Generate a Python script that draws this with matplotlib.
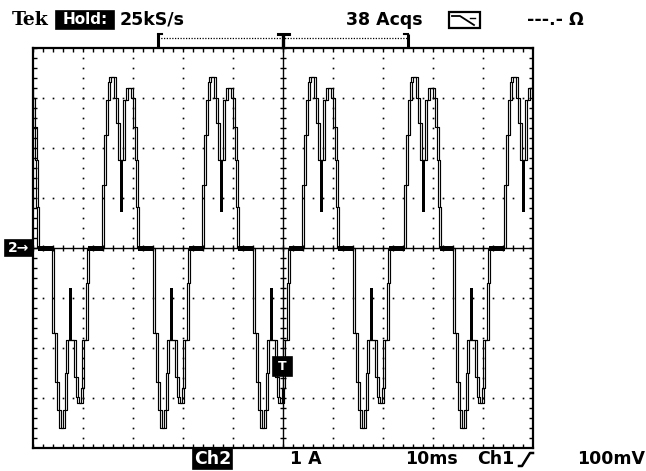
import matplotlib
matplotlib.use("Agg")
import matplotlib.pyplot as plt
import matplotlib.transforms as mtransforms
from matplotlib.patches import Rectangle
import numpy as np

W, H = 646, 471

# scope screen: 10 ms/div horizontally, Ch2 at 1 A/div, 10 x 8 divisions
T_RANGE = (0.0, 100.0)
I_RANGE = (-4.0, 4.0)

# one positive current pulse: ms from pulse start, amps (stepped samples)
POS_T = [0.0, 0.4, 0.8, 1.2, 1.4, 2.4, 2.8, 3.2, 4.2, 4.8, 5.8, 6.2, 6.6, 6.8, 7.0]
POS_I = [1.26, 2.26, 2.96, 3.32, 3.42, 3.0, 2.5, 1.76, 2.96, 3.2, 3.0, 2.42, 1.76, 0.82, 0.0]
POS_JITTER = (3.4, 4.0, 0.72, 1.76)  # smeared valley: t0, t1, low, high

# one negative current pulse
NEG_T = [0.0, 0.6, 1.0, 1.4, 2.2, 2.6, 2.8, 4.4, 4.8, 5.0, 5.8, 6.0, 6.8, 7.0]
NEG_I = [-1.7, -2.68, -3.24, -3.6, -3.24, -2.5, -1.84, -2.58, -2.98, -3.1, -2.8, -1.84, -0.7, 0.0]
NEG_JITTER = (3.2, 3.8, -1.84, -0.8)

POS_STARTS = [-6.0, 14.0, 34.0, 54.0, 74.4, 94.4]
NEG_STARTS = [4.0, 24.2, 44.2, 64.2, 84.2]
NOISE_AMP = 0.05

TOP_TEXT = ["25kS/s", "38 Acqs", "---.- Ω"]
BOTTOM_TEXT = ["1 A", "10ms", "Ch1", "100mV"]


def fx(x):
    return x / W


def fy(y):
    return 1 - y / H


def black_box(fig, x0, y0, x1, y1, fill=True, lw=1.2):
    fig.add_artist(Rectangle((fx(x0), fy(y1)), (x1 - x0) / W, (y1 - y0) / H,
                             transform=fig.transFigure,
                             facecolor="black" if fill else "none",
                             edgecolor="black", linewidth=lw))


def main():
    fig = plt.figure(figsize=(W / 100, H / 100), dpi=100)
    ax = fig.add_axes([fx(33), fy(448), 500 / W, 400 / H])
    ax.set_xlim(*T_RANGE)
    ax.set_ylim(*I_RANGE)
    ax.set_xticks([])
    ax.set_yticks([])
    for sp in ax.spines.values():
        sp.set_linewidth(1.6)
        sp.set_zorder(6)

    # graticule: 5 minor steps per division
    minor_t = np.arange(0, 100.01, 2.0)
    minor_i = np.arange(-4, 4.01, 0.2)
    for xv in range(10, 100, 10):
        if xv == 50:
            continue
        ax.plot(np.full_like(minor_i, xv), minor_i, ls="none", marker="s",
                ms=1.2, mew=0, color="black", zorder=1)
    for yv in [-3, -2, -1, 1, 2, 3]:
        ax.plot(minor_t, np.full_like(minor_t, yv), ls="none", marker="s",
                ms=1.2, mew=0, color="black", zorder=1)

    # centre cross with minor ticks
    ax.axvline(50, color="black", lw=1.0, zorder=2)
    ax.axhline(0, color="black", lw=1.0, zorder=2)
    ax.vlines(minor_t, -0.06, 0.06, color="black", lw=1.0, zorder=2)
    ax.hlines(minor_i, 49.4, 50.6, color="black", lw=1.0, zorder=2)

    # border ticks
    ax.vlines(minor_t, 4 - 0.08, 4, color="black", lw=1.0, zorder=2)
    ax.vlines(minor_t, -4, -4 + 0.08, color="black", lw=1.0, zorder=2)
    ax.hlines(minor_i, 0, 0.8, color="black", lw=1.0, zorder=2)
    ax.hlines(minor_i, 99.2, 100, color="black", lw=1.0, zorder=2)

    # build the trace from the pulse templates
    pulses = sorted([(s, POS_T, POS_I, POS_JITTER) for s in POS_STARTS] +
                    [(s, NEG_T, NEG_I, NEG_JITTER) for s in NEG_STARTS],
                    key=lambda p: p[0])
    t = [-10.0]
    cur = [0.0]
    for s, tt, ii, _ in pulses:
        t += [s + v for v in tt]
        cur += list(ii)
    t.append(110.0)
    cur.append(0.0)

    # envelope look: two copies of the trace slightly apart
    for dx in (-0.75, 0.75):
        tr = mtransforms.offset_copy(ax.transData, fig=fig, x=dx, y=0, units="points")
        ax.plot(t, cur, drawstyle="steps-post", color="black", lw=0.85,
                transform=tr, zorder=4)

    # smeared valleys and baseline noise between pulses
    for k, (s, tt, ii, jit) in enumerate(pulses):
        j0, j1, lo, hi = jit
        ax.fill_between([s + j0, s + j1], lo, hi, color="black", lw=0, zorder=4)
        end = s + tt[-1]
        if k + 1 < len(pulses):
            nxt = pulses[k + 1][0]
            ax.fill_between([end, nxt], -NOISE_AMP, NOISE_AMP, color="black",
                            lw=0, zorder=4)

    # record-length bracket above the screen
    ax.plot([25, 75], [4.2, 4.2], color="black", lw=0.9, ls=(0, (1, 1.2)),
            clip_on=False)
    for xb, d in [(25, 0.8), (75, -0.8)]:
        ax.plot([xb, xb], [4.0, 4.28], color="black", lw=2.2, clip_on=False,
                solid_capstyle="butt")
        ax.plot([xb, xb + d], [4.28, 4.28], color="black", lw=1.5, clip_on=False)
    ax.plot([50, 50], [4.0, 4.3], color="black", lw=2.4, clip_on=False,
            solid_capstyle="butt")
    ax.plot([48.9, 51.1], [4.28, 4.28], color="black", lw=2.2, clip_on=False)

    # header line
    fs = 12.5
    fig.text(fx(12), fy(20), "Tek", family="DejaVu Serif", weight="bold",
             fontsize=13.5, va="center", ha="left")
    black_box(fig, 56, 11, 114, 29)
    fig.text(fx(85), fy(20), "Hold:", color="white", weight="bold",
             fontsize=11, va="center", ha="center")
    fig.text(fx(120), fy(20), TOP_TEXT[0], weight="bold", fontsize=fs,
             va="center", ha="left")
    fig.text(fx(346), fy(20), TOP_TEXT[1], weight="bold", fontsize=fs,
             va="center", ha="left")
    black_box(fig, 449, 12, 480, 28, fill=False, lw=1.6)
    fig.add_artist(plt.Line2D([fx(452), fx(460), fx(474)],
                              [fy(16), fy(16), fy(25)], color="black", lw=1.3))
    fig.add_artist(plt.Line2D([fx(470), fx(475)], [fy(18), fy(18)],
                              color="black", lw=1.0))
    fig.text(fx(527), fy(20), TOP_TEXT[2], weight="bold", fontsize=fs,
             va="center", ha="left")

    # footer line
    black_box(fig, 193, 449, 232, 469)
    fig.text(fx(212.5), fy(459), "Ch2", color="white", weight="bold",
             fontsize=fs, va="center", ha="center")
    fig.text(fx(290), fy(459), BOTTOM_TEXT[0], weight="bold", fontsize=fs,
             va="center", ha="left")
    fig.text(fx(405), fy(459), BOTTOM_TEXT[1], weight="bold", fontsize=fs,
             va="center", ha="left")
    fig.text(fx(477), fy(459), BOTTOM_TEXT[2], weight="bold", fontsize=fs,
             va="center", ha="left")
    fig.add_artist(plt.Line2D([fx(519), fx(522), fx(530), fx(533)],
                              [fy(466), fy(466), fy(453), fy(453)],
                              color="black", lw=1.8))
    fig.text(fx(577), fy(459), BOTTOM_TEXT[3], weight="bold", fontsize=fs,
             va="center", ha="left")

    # channel 2 ground marker and trigger level marker
    black_box(fig, 5, 240, 32, 256)
    fig.text(fx(18.5), fy(248), "2→", color="white", weight="bold",
             fontsize=10, va="center", ha="center")
    black_box(fig, 273, 357, 292, 376)
    fig.text(fx(282.5), fy(366.5), "T", color="white", weight="bold",
             fontsize=9, va="center", ha="center")

    fig.savefig("out.png", dpi=100, facecolor="white")
    plt.close(fig)


if __name__ == "__main__":
    main()
